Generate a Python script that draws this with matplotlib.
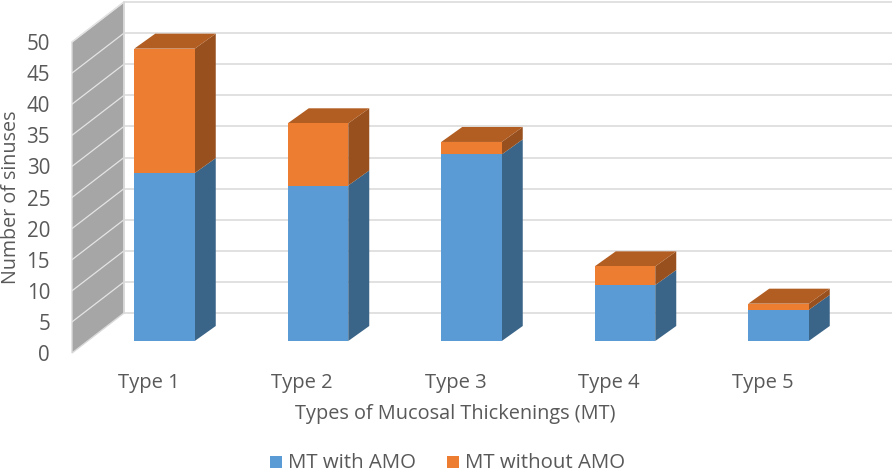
import matplotlib
matplotlib.use("Agg")
import matplotlib.pyplot as plt
from matplotlib.patches import Polygon, Rectangle

categories = ["Type 1", "Type 2", "Type 3", "Type 4", "Type 5"]
with_amo = [27, 25, 30, 9, 5]
without_amo = [20, 10, 2, 3, 1]
y_ticks = [0, 5, 10, 15, 20, 25, 30, 35, 40, 45, 50]

plt.rcParams['font.family'] = ['Open Sans', 'DejaVu Sans']
W, H = 894, 471
fig = plt.figure(figsize=(W / 100, H / 100), dpi=100, facecolor='white')
ax = fig.add_axes([0, 0, 1, 1])

# scales: category spacing and value scale in pixels
CX0, CDX = 164.5, 153.5   # pixel x of first category centre, spacing
Y0, PPU = 341.0, 6.22     # pixel y of value 0 on the bars' front plane
ax.set_xlim(-CX0 / CDX, (W - CX0) / CDX)
ax.set_ylim(-(H - Y0) / PPU, Y0 / PPU)
ax.axis('off')

px = 1 / CDX
pv = 1 / PPU
BAR_W = 60.5 * px
DX, DY = 21 * px, 15 * pv      # bar depth offset
WALL_L = (72 - CX0) * px
WALL_R = (124 - CX0) * px
F0 = (Y0 - 353) * pv           # value-axis zero at wall front
B0 = (Y0 - 313) * pv           # value-axis zero at wall back
TOP = 50

BLUE, BLUE_S = '#5B9BD5', '#3A6488'
ORANGE, ORANGE_S, ORANGE_T = '#ED7D31', '#97501E', '#B25D22'
GRID = '#DEDEDE'
TXT = '#595959'

# side wall and back-wall gridlines
ax.add_patch(Polygon([(WALL_L, F0), (WALL_R, B0), (WALL_R, B0 + TOP), (WALL_L, F0 + TOP)],
                     closed=True, fc='#A6A6A6', ec='#D9D9D9', lw=1, zorder=1))
XR = (892 - CX0) * px
for v in y_ticks:
    ax.plot([WALL_R, XR], [B0 + v, B0 + v], color=GRID, lw=1.3, zorder=1, solid_capstyle='butt')
    if 0 < v:
        ax.plot([WALL_L, WALL_R], [F0 + v, B0 + v], color='#E4E4E4', lw=0.9, zorder=2)
    ax.text(50 * px + ax.get_xlim()[0], F0 + v, str(v), ha='right', va='center_baseline',
            fontsize=14.8, color=TXT)
ax.plot([WALL_R, WALL_R], [B0, B0 + TOP], color='#D9D9D9', lw=1.2, zorder=2)


def box(c, lo, hi, front, side, top=None, z=3):
    l, r = c - BAR_W / 2, c + BAR_W / 2
    ax.add_patch(Polygon([(r, lo), (r + DX, lo + DY), (r + DX, hi + DY), (r, hi)],
                         closed=True, fc=side, ec='none', zorder=z))
    ax.add_patch(Rectangle((l, lo), BAR_W, hi - lo, fc=front, ec='none', zorder=z + 1))
    if top:
        ax.add_patch(Polygon([(l, hi), (l + DX, hi + DY), (r + DX, hi + DY), (r, hi)],
                             closed=True, fc=top, ec='none', zorder=z))


for i, (a, b) in enumerate(zip(with_amo, without_amo)):
    box(i, 0, a, BLUE, BLUE_S)
    box(i, a, a + b, ORANGE, ORANGE_S, ORANGE_T)
    ax.text(i - 16 * px, (Y0 - 383) * pv, categories[i], ha='center', va='center',
            fontsize=14.5, color=TXT)

ax.text(10.5 * px + ax.get_xlim()[0], (Y0 - 197) * pv, 'Number of sinuses', rotation=90,
        ha='center', va='center', fontsize=14.2, color=TXT)
ax.text((455 - CX0) * px, (Y0 - 414) * pv, 'Types of Mucosal Thickenings (MT)', ha='center',
        va='center', fontsize=14.3, color=TXT)

# legend
LY = (Y0 - 462) * pv
for x0, col, lab in [(270, BLUE, 'MT with AMO'), (447, ORANGE, 'MT without AMO')]:
    ax.add_patch(Rectangle(((x0 - CX0) * px, LY - 6 * pv), 12 * px, 12 * pv, fc=col, ec='none', zorder=3))
    ax.text((x0 + 18 - CX0) * px, LY - 0.5 * pv, lab, ha='left', va='center', fontsize=14.7, color=TXT)

fig.savefig('out.png', dpi=100, facecolor='white')
